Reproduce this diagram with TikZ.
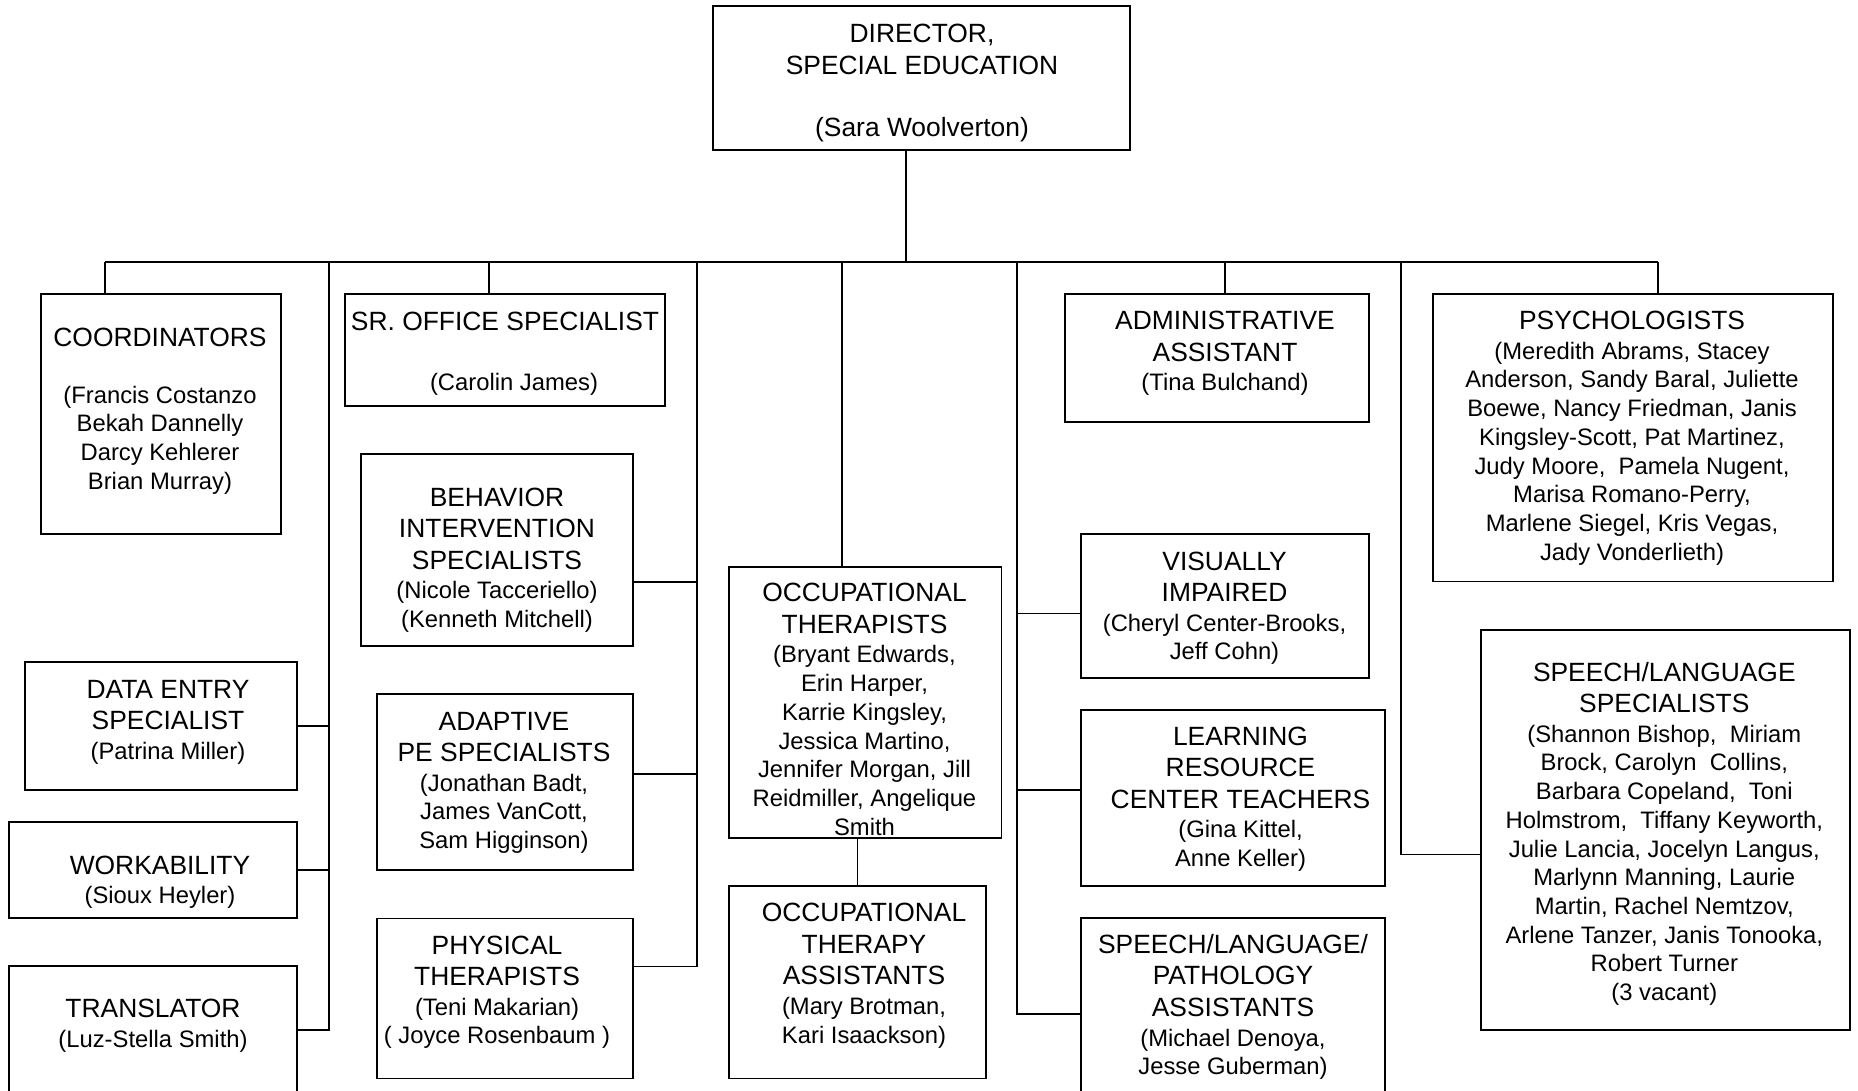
\documentclass[tikz,border=0pt]{standalone}
\usepackage{fontspec}
\setmainfont{Liberation Sans}
\usetikzlibrary{calc}
\newcommand\TitleLine[1]{{\fontsize{26.4}{28.7}\selectfont #1}}
\newcommand\FirstStrut{\rule{0pt}{20pt}}
\begin{document}
\begin{tikzpicture}[x=1pt,y=-1pt,
  box/.style={draw, line width=1.8pt, inner sep=0pt, outer sep=0pt, anchor=north west},
  link/.style={line width=1.6pt},
  txt/.style={align=center, inner sep=0pt, outer sep=0pt, anchor=north,
              font=\fontsize{23.8}{28.7}\selectfont}]
\useasboundingbox (0,0) rectangle (1858,1090);
\fill[white] (0,0) rectangle (1858,1090);

% ---------- boxes ----------
\node[box, minimum width=417pt, minimum height=144pt]   (dir)   at (713,6) {};
\node[box, minimum width=240pt, minimum height=240pt]   (coord) at (41,294) {};
\node[box, minimum width=320pt, minimum height=112pt]   (sro)   at (345,294) {};
\node[box, minimum width=272pt, minimum height=192pt]   (bis)   at (361,454) {};
\node[box, minimum width=272pt, minimum height=128pt]   (de)    at (25,662) {};
\node[box, minimum width=288pt, minimum height=96pt]    (work)  at (9,822) {};
\node[box, minimum width=288pt, minimum height=128pt]   (trans) at (9,966) {};
\node[box, minimum width=256pt, minimum height=176pt]   (ape)   at (377,694) {};
\node[box, minimum width=256pt, minimum height=160pt]   (pt)    at (377,918.5) {};
\node[box, minimum width=272.5pt, minimum height=271pt] (ot)    at (729,567) {};
\node[box, minimum width=257pt, minimum height=192.5pt] (ota)   at (729,886) {};
\node[box, minimum width=304pt, minimum height=128pt]   (admin) at (1065,294) {};
\node[box, minimum width=400pt, minimum height=287.5pt] (psych) at (1433,294) {};
\node[box, minimum width=288pt, minimum height=144pt]   (vi)    at (1081,534) {};
\node[box, minimum width=304pt, minimum height=176pt]   (lrc)   at (1081,710) {};
\node[box, minimum width=304pt, minimum height=192pt]   (slpa)  at (1081,918) {};
\node[box, minimum width=369pt, minimum height=400pt]   (sls)   at (1481,630) {};

% ---------- connector points ----------
\coordinate (hub)  at (906,262);
\coordinate (busL) at (105,262);
\coordinate (busR) at (1658,262);
\coordinate (j1) at (329,262);
\coordinate (j2) at (489,262);
\coordinate (j3) at (697,262);
\coordinate (j4) at (842,262);
\coordinate (j5) at (1017,262);
\coordinate (j6) at (1225,262);
\coordinate (j7) at (1401,262);
\coordinate (bisc) at ($(bis.north east)+(0,128)$);
\coordinate (apec) at ($(ape.north east)+(0,80)$);
\coordinate (ptc)  at ($(pt.north east)+(0,48)$);
\coordinate (vic)  at ($(vi.north west)+(0,79.3)$);
\coordinate (lrcc) at ($(lrc.north west)+(0,80)$);
\coordinate (slsc) at ($(sls.north west)+(0,224.3)$);

% ---------- connectors ----------
\draw[link] (dir.south -| hub) -- (hub);
\draw[link] (busL) -- (busR);
\draw[link] (busL) -- (busL |- coord.north);
\draw[link] (busR) -- (busR |- psych.north);
\draw[link] (j2) -- (j2 |- sro.north);
\draw[link] (j4) -- (j4 |- ot.north);
\draw[link] (j6) -- (j6 |- admin.north);
\draw[link] (ota.north) -- (ota.north |- ot.south);
\draw[link] (j1) -- (j1 |- trans.east) -- (trans.east);
\draw[link] (de.east) -- (de.east -| j1);
\draw[link] (work.east) -- (work.east -| j1);
\draw[link] (j3) -- (j3 |- ptc) -- (ptc);
\draw[link] (bisc) -- (bisc -| j3);
\draw[link] (apec) -- (apec -| j3);
\draw[link] (j5) -- (j5 |- slpa.west) -- (slpa.west);
\draw[link] (vic) -- (vic -| j5);
\draw[link] (lrcc) -- (lrcc -| j5);
\draw[link] (j7) -- (j7 |- slsc) -- (slsc);

% ---------- texts ----------
\node[txt] (dir-t) at (922,22) {\FirstStrut\TitleLine{DIRECTOR,}\\[3.3pt]\TitleLine{SPECIAL EDUCATION}\\[33.3pt]\TitleLine{(Sara Woolverton)}};
\node[txt] (coord-t) at (160,326) {\FirstStrut\TitleLine{COORDINATORS}\\[28.3pt](Francis Costanzo\\Bekah Dannelly\\Darcy Kehlerer\\Brian Murray)};
\node[txt] (sro-t) at (505,310) {\FirstStrut\TitleLine{SR. OFFICE SPECIALIST}\\[32.2pt]\hspace*{18pt}(Carolin James)};
\node[txt] (bis-t) at (497,486) {\FirstStrut\TitleLine{BEHAVIOR}\\[2.8pt]\TitleLine{INTERVENTION}\\[2.8pt]\TitleLine{SPECIALISTS}\\[1pt](Nicole Tacceriello)\\(Kenneth Mitchell)};
\node[txt] (de-t) at (168,678.3) {\FirstStrut\TitleLine{DATA ENTRY}\\[2.8pt]\TitleLine{SPECIALIST}\\[1pt](Patrina Miller)};
\node[txt] (work-t) at (160,854) {\FirstStrut\TitleLine{WORKABILITY}\\[1pt](Sioux Heyler)};
\node[txt] (trans-t) at (153,997.7) {\FirstStrut\TitleLine{TRANSLATOR}\\[1pt](Luz-Stella Smith)};
\node[txt] (ape-t) at (504,710) {\FirstStrut\TitleLine{ADAPTIVE}\\[2.8pt]\TitleLine{PE SPECIALISTS}\\[1pt](Jonathan Badt,\\James VanCott,\\Sam Higginson)};
\node[txt] (pt-t) at (497,934) {\FirstStrut\TitleLine{PHYSICAL}\\[2.8pt]\TitleLine{THERAPISTS}\\[1pt](Teni Makarian)\\( Joyce Rosenbaum )};
\node[txt] (ot-t) at (864.5,581.7) {\FirstStrut\TitleLine{OCCUPATIONAL}\\[2.8pt]\TitleLine{THERAPISTS}\\[1pt](Bryant Edwards,\\Erin Harper,\\Karrie Kingsley,\\Jessica Martino,\\Jennifer Morgan, Jill\\Reidmiller, Angelique\\Smith};
\node[txt] (ota-t) at (864,901.7) {\FirstStrut\TitleLine{OCCUPATIONAL}\\[2.8pt]\TitleLine{THERAPY}\\[2.8pt]\TitleLine{ASSISTANTS}\\[1pt](Mary Brotman,\\Kari Isaackson)};
\node[txt] (admin-t) at (1225,309.5) {\FirstStrut\TitleLine{ADMINISTRATIVE}\\[2.8pt]\TitleLine{ASSISTANT}\\[1pt](Tina Bulchand)};
\node[txt] (psych-t) at (1632,309.5) {\FirstStrut\TitleLine{PSYCHOLOGISTS}\\[1pt](Meredith Abrams, Stacey\\Anderson, Sandy Baral, Juliette\\Boewe, Nancy Friedman, Janis\\Kingsley-Scott, Pat Martinez,\\Judy Moore,~ Pamela Nugent,\\Marisa Romano-Perry,\\Marlene Siegel, Kris Vegas,\\Jady Vonderlieth)};
\node[txt] (vi-t) at (1224.5,550) {\FirstStrut\TitleLine{VISUALLY}\\[2.8pt]\TitleLine{IMPAIRED}\\[1pt](Cheryl Center-Brooks,\\Jeff Cohn)};
\node[txt] (lrc-t) at (1240.5,725) {\FirstStrut\TitleLine{LEARNING}\\[2.8pt]\TitleLine{RESOURCE}\\[2.8pt]\TitleLine{CENTER TEACHERS}\\[1pt](Gina Kittel,\\Anne Keller)};
\node[txt] (slpa-t) at (1233,933.3) {\FirstStrut\TitleLine{SPEECH/LANGUAGE/}\\[2.8pt]\TitleLine{PATHOLOGY}\\[2.8pt]\TitleLine{ASSISTANTS}\\[1pt](Michael Denoya,\\Jesse Guberman)};
\node[txt] (sls-t) at (1664.3,661) {\FirstStrut\TitleLine{SPEECH/LANGUAGE}\\[2.8pt]\TitleLine{SPECIALISTS}\\[1pt](Shannon Bishop,~ Miriam\\Brock, Carolyn~ Collins,\\Barbara Copeland,~ Toni\\Holmstrom,~ Tiffany Keyworth,\\Julie Lancia, Jocelyn Langus,\\Marlynn Manning, Laurie\\Martin, Rachel Nemtzov,\\Arlene Tanzer, Janis Tonooka,\\Robert Turner\\(3 vacant)};
\end{tikzpicture}
\end{document}
